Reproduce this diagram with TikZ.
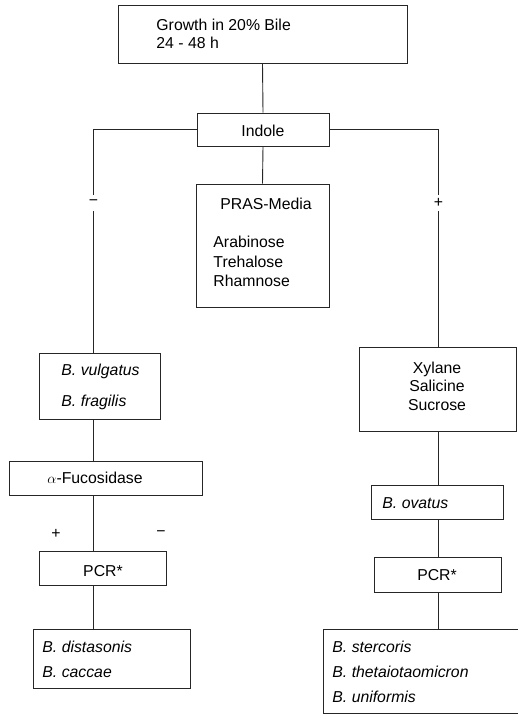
\documentclass[tikz,border=0pt]{standalone}
\usepackage{fontspec}
\setmainfont{Liberation Sans}
\newcommand{\chartfont}{\fontsize{15.8}{19}\selectfont}
\begin{document}
\begin{tikzpicture}[x=1pt, y=-1pt, line width=0.9pt,
  box/.style={draw=black!85, inner sep=0pt},
  txt/.style={anchor=base west, inner sep=0pt, font=\chartfont},
  ctxt/.style={anchor=base, inner sep=0pt, font=\chartfont},
  link/.style={draw=black!85},
  sign/.style={fill=white, inner sep=0pt, minimum width=12pt, minimum height=16pt, font=\chartfont},
  signlabel/.style={inner sep=0pt, font=\chartfont}]
\useasboundingbox (0,0) rectangle (517,714);

% boxes
\node[box, minimum width=289pt, minimum height=58pt] (growth) at (262.5,34) {};
\node[box, minimum width=132pt, minimum height=33pt] (indole) at (263,129.5) {};
\node[box, minimum width=133pt, minimum height=123pt] (pras) at (262.5,245.5) {};
\node[box, minimum width=121pt, minimum height=66pt] (vulg) at (99.5,386) {};
\node[box, minimum width=193pt, minimum height=34pt] (fuco) at (105.5,478) {};
\node[box, minimum width=127pt, minimum height=34pt] (pcrl) at (102.5,568) {};
\node[box, minimum width=157pt, minimum height=59pt] (dist) at (111.5,658.5) {};
\node[box, minimum width=157pt, minimum height=84pt] (xyl) at (437.5,389) {};
\node[box, minimum width=132pt, minimum height=34pt] (ovat) at (437,502) {};
\node[box, minimum width=127pt, minimum height=35pt] (pcrr) at (437.5,574.5) {};
\node[box, minimum width=217pt, minimum height=84pt] (ster) at (431.5,671) {};

% column positions of the two branches
\coordinate (L) at (93,0);
\coordinate (R) at (438,0);

% connectors
\draw[link] (growth.south) -- (indole.north);
\draw[link] (indole.south) -- (pras.north);
\draw[link] (indole.west) -| (vulg.north -| L);
\draw[link] (indole.east) -| (xyl.north -| R);
\draw[link] (vulg.south -| L) -- (fuco.north -| L);
\draw[link] (fuco.south -| L) -- (pcrl.north -| L);
\draw[link] (pcrl.south -| L) -- (dist.north -| L);
\draw[link] (xyl.south -| R) -- (ovat.north -| R);
\draw[link] (ovat.south -| R) -- (pcrr.north -| R);
\draw[link] (pcrr.south -| R) -- (ster.north -| R);

% branch signs
\node[sign] (neg) at (93.5,203) {−};
\node[sign] (pos) at (438.5,203) {+};
\node[signlabel] (fpos) at (56,534) {+};
\node[signlabel] (fneg) at (161,534) {−};

% texts
\node[txt] (t1) at (156,30.7) {Growth in 20\% Bile};
\node[txt] (t2) at (156,49) {24 - 48 h};
\node[ctxt] (t3) at (263,137) {Indole};
\node[txt] (t4) at (220,209) {PRAS-Media};
\node[txt] (t5) at (213,247) {Arabinose};
\node[txt] (t6) at (213,267) {Trehalose};
\node[txt] (t7) at (213,286) {Rhamnose};
\node[txt] (t8) at (61,375) {\itshape B. vulgatus};
\node[txt] (t9) at (61,406.7) {\itshape B. fragilis};
\node[txt] (t10) at (47,483.3) {$\alpha$-Fucosidase};
\node[ctxt] (t11) at (103,576.7) {PCR*};
\node[txt] (t12) at (42,652) {\itshape B. distasonis};
\node[txt] (t13) at (42,677) {\itshape B. caccae};
\node[ctxt] (t14) at (437,373) {Xylane};
\node[ctxt] (t15) at (437,391.7) {Salicine};
\node[ctxt] (t16) at (437,410) {Sucrose};
\node[txt] (t17) at (382,508) {\itshape B. ovatus};
\node[ctxt] (t18) at (437,580.7) {PCR*};
\node[txt] (t19) at (332,652.3) {\itshape B. stercoris};
\node[txt] (t20) at (332,677.3) {\itshape B. thetaiotaomicron};
\node[txt] (t21) at (332,702.3) {\itshape B. uniformis};
\end{tikzpicture}
\end{document}
